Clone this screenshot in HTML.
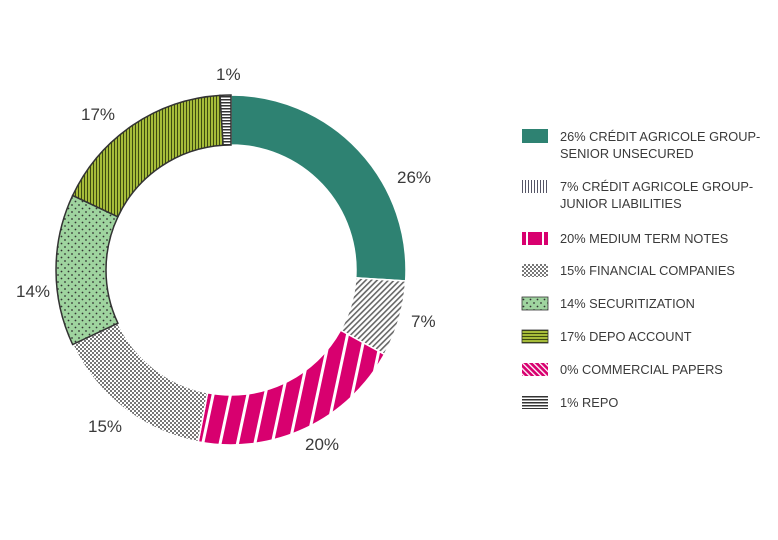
<!DOCTYPE html><html><head><style>body{margin:0;background:#fff}svg{display:block}text{font-family:"Liberation Sans",sans-serif;fill:#3a3a3a}</style></head><body>
<svg id="s" width="778" height="540" xmlns="http://www.w3.org/2000/svg">
<defs>
<pattern id="p7" width="4" height="4" patternUnits="userSpaceOnUse" patternTransform="rotate(45)"><rect width="4" height="4" fill="#fff"/><rect width="1.6" height="4" fill="#666"/></pattern>
<pattern id="p20" width="17" height="10" patternUnits="userSpaceOnUse" patternTransform="rotate(12)"><rect width="17" height="10" fill="#d8006f"/><rect width="3" height="10" fill="#fff"/></pattern>
<pattern id="p15" width="4" height="4" patternUnits="userSpaceOnUse"><rect width="4" height="4" fill="#fff"/><rect width="2" height="2" fill="#777"/><rect x="2" y="2" width="2" height="2" fill="#777"/></pattern>
<pattern id="p14" width="7" height="7" patternUnits="userSpaceOnUse"><rect width="7" height="7" fill="#9fd49f"/><circle cx="2" cy="2" r="0.9" fill="#333"/><circle cx="5.5" cy="5.5" r="0.9" fill="#333"/></pattern>
<pattern id="p17" width="3" height="3" patternUnits="userSpaceOnUse"><rect width="3" height="3" fill="#a6bc3a"/><rect width="1" height="3" fill="#3d4a10"/></pattern>
<pattern id="p17h" width="3" height="3" patternUnits="userSpaceOnUse"><rect width="3" height="3" fill="#a6bc3a"/><rect width="3" height="1" fill="#3d4a10"/></pattern>
<pattern id="p1" width="3" height="3" patternUnits="userSpaceOnUse"><rect width="3" height="3" fill="#fff"/><rect width="3" height="1.5" fill="#333"/></pattern>
<pattern id="pv" width="3" height="3" patternUnits="userSpaceOnUse"><rect width="3" height="3" fill="#fff"/><rect width="1" height="3" fill="#556"/></pattern>
<pattern id="pc" width="4" height="4" patternUnits="userSpaceOnUse" patternTransform="rotate(-45)"><rect width="4" height="4" fill="#d8006f"/><rect width="1.3" height="4" fill="#fff"/></pattern>
</defs>
<g id="d"></g>
<text x="397" y="183" font-size="17">26%</text>
<text x="411" y="327" font-size="17">7%</text>
<text x="305" y="450" font-size="17">20%</text>
<text x="88" y="432" font-size="17">15%</text>
<text x="16" y="297" font-size="17">14%</text>
<text x="81" y="120" font-size="17">17%</text>
<text x="216" y="80" font-size="17">1%</text>
<g font-size="12.8">
<rect x="522" y="129" width="26" height="14" fill="#2e8272"/>
<text x="560" y="141">26% CRÉDIT AGRICOLE GROUP-</text><text x="560" y="158">SENIOR UNSECURED</text>
<rect x="522" y="180" width="26" height="13" fill="url(#pv)"/>
<text x="560" y="191">7% CRÉDIT AGRICOLE GROUP-</text><text x="560" y="208">JUNIOR LIABILITIES</text>
<rect x="522" y="232" width="26" height="13" fill="#d8006f"/><rect x="526" y="232" width="2" height="13" fill="#fff"/><rect x="542" y="232" width="2" height="13" fill="#fff"/>
<text x="560" y="243">20% MEDIUM TERM NOTES</text>
<rect x="522" y="264" width="26" height="13" fill="url(#p15)"/>
<text x="560" y="275">15%  FINANCIAL COMPANIES</text>
<rect x="522" y="297" width="26" height="13" fill="url(#p14)" stroke="#333" stroke-width="0.8"/>
<text x="560" y="308">14% SECURITIZATION</text>
<rect x="522" y="330" width="26" height="13" fill="url(#p17h)" stroke="#333" stroke-width="0.8"/>
<text x="560" y="341">17% DEPO ACCOUNT</text>
<rect x="522" y="363" width="26" height="13" fill="url(#pc)"/>
<text x="560" y="374">0% COMMERCIAL PAPERS</text>
<rect x="522" y="396" width="26" height="13" fill="url(#p1)"/>
<text x="560" y="407">1% REPO</text>
</g>
</svg>
<script>
var cx=231,cy=270,R=175,r=125;
var b=[0,93.6,118.8,190.8,244.8,295.2,356.4,360];
var f=["#2e8272","url(#p7)","url(#p20)","url(#p15)","url(#p14)","url(#p17)","url(#p1)"];
var st=["#fff","#fff","#fff","#fff","#333","#333","#333"];
function p(a,rr){a=a*Math.PI/180;return (cx+rr*Math.sin(a)).toFixed(2)+","+(cy-rr*Math.cos(a)).toFixed(2);}
var h="";
for(var i=0;i<7;i++){var a0=b[i],a1=b[i+1],l=(a1-a0)>180?1:0;
h+='<path d="M'+p(a0,R)+' A'+R+','+R+' 0 '+l+' 1 '+p(a1,R)+' L'+p(a1,r)+' A'+r+','+r+' 0 '+l+' 0 '+p(a0,r)+' Z" fill="'+f[i]+'" stroke="'+st[i]+'" stroke-width="1.5"/>';}
document.getElementById("d").innerHTML=h;
</script>
</body></html>
